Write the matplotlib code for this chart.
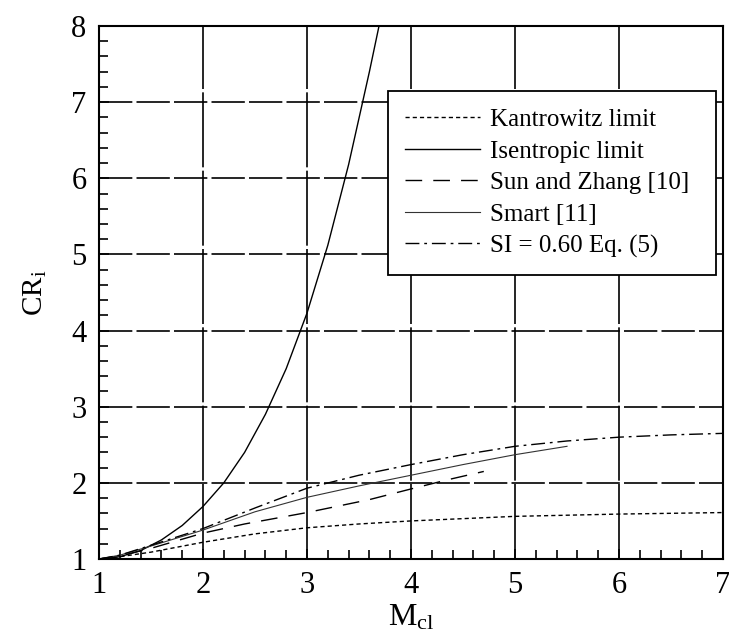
import matplotlib
matplotlib.use('Agg')
import matplotlib.pyplot as plt
from matplotlib.ticker import MultipleLocator

plt.rcParams['font.family'] = ['Liberation Serif', 'DejaVu Serif']
plt.rcParams['mathtext.fontset'] = 'custom'
plt.rcParams['mathtext.rm'] = 'Liberation Serif'
plt.rcParams['mathtext.it'] = 'Liberation Serif:italic'

# ---- values ----
kant_m = [1.0, 1.2, 1.5, 2.0, 2.5, 3.0, 3.5, 4.0, 5.0, 6.0, 7.0]
kant_cr = [1.0, 1.03, 1.09, 1.22, 1.33, 1.41, 1.46, 1.50, 1.56, 1.59, 1.61]

isen_m = [1.0, 1.2, 1.4, 1.6, 1.8, 2.0, 2.2, 2.4, 2.6, 2.8, 3.0, 3.2, 3.4, 3.5, 3.6, 3.7]
isen_cr = [1.0, 1.03, 1.11, 1.25, 1.44, 1.69, 2.0, 2.40, 2.90, 3.50, 4.23, 5.12, 6.18, 6.79, 7.40, 8.05]

sun_m = [1.0, 1.2, 1.5, 2.0, 2.4, 3.0, 3.6, 4.0, 4.35, 4.7]
sun_cr = [1.0, 1.04, 1.14, 1.34, 1.46, 1.61, 1.78, 1.92, 2.04, 2.15]

smart_m = [1.0, 1.2, 1.5, 2.0, 2.5, 3.0, 3.5, 4.0, 4.5, 5.0, 5.5]
smart_cr = [1.0, 1.05, 1.17, 1.38, 1.62, 1.81, 1.96, 2.10, 2.24, 2.37, 2.48]

si_m = [1.0, 1.2, 1.5, 2.0, 2.5, 3.0, 3.5, 4.0, 4.5, 5.0, 5.5, 6.0, 6.5, 7.0]
si_cr = [1.0, 1.05, 1.18, 1.40, 1.67, 1.93, 2.10, 2.24, 2.37, 2.48, 2.55, 2.60, 2.63, 2.65]

labels = ['Kantrowitz limit', 'Isentropic limit', 'Sun and Zhang [10]',
          'Smart [11]', 'SI = 0.60 Eq. (5)']

fig = plt.figure(figsize=(7.29, 6.39), dpi=100)
ax = fig.add_axes([0.1358, 0.1252, 0.8560, 0.8341])

ax.plot(kant_m, kant_cr, color='black', lw=1.0, linestyle=(0, (3, 2.2)), label=labels[0])
ax.plot(isen_m, isen_cr, color='black', lw=1.0, linestyle='-', label=labels[1])
ax.plot(sun_m, sun_cr, color='black', lw=1.0, linestyle=(0, (12, 8)), label=labels[2])
ax.plot(smart_m, smart_cr, color='#333333', lw=0.8, linestyle='-', label=labels[3])
ax.plot(si_m, si_cr, color='black', lw=1.0, linestyle=(0, (10, 3.5, 2, 3.5)), label=labels[4])

ax.set_xlim(1, 7)
ax.set_ylim(1, 8)
ax.xaxis.set_major_locator(MultipleLocator(1))
ax.yaxis.set_major_locator(MultipleLocator(1))
ax.xaxis.set_minor_locator(MultipleLocator(0.2))
ax.yaxis.set_minor_locator(MultipleLocator(0.2))

# grid: horizontal long dashes, vertical nearly solid
for yv in range(2, 8):
    ax.axhline(yv, color='black', lw=1.2, linestyle=(0, (20, 2.5)), zorder=1)
for xv in range(2, 7):
    ax.axvline(xv, color='black', lw=1.2, linestyle=(0, (45, 2)), zorder=1)

ax.tick_params(which='both', direction='in', top=False, right=False,
               labelsize=22, pad=9, width=1.2, color='black')
ax.tick_params(which='major', length=7)
ax.tick_params(which='minor', length=6.5)

for sp in ax.spines.values():
    sp.set_linewidth(1.5)
    sp.set_color('black')

ax.set_xlabel(r'M$_\mathrm{cl}$', fontsize=23, labelpad=2)
ax.set_ylabel(r'CR$_\mathrm{i}$', fontsize=21, labelpad=16)

leg = ax.legend(loc='upper left', bbox_to_anchor=(0.463, 0.538, 0.526, 0.340),
                mode='expand', fontsize=18,
                frameon=True, fancybox=False, edgecolor='black', framealpha=1,
                handlelength=3.0, handletextpad=0.4, labelspacing=0.36,
                borderpad=0.7, borderaxespad=0)
leg.get_frame().set_linewidth(1.3)

fig.savefig('out.png', dpi=100)
